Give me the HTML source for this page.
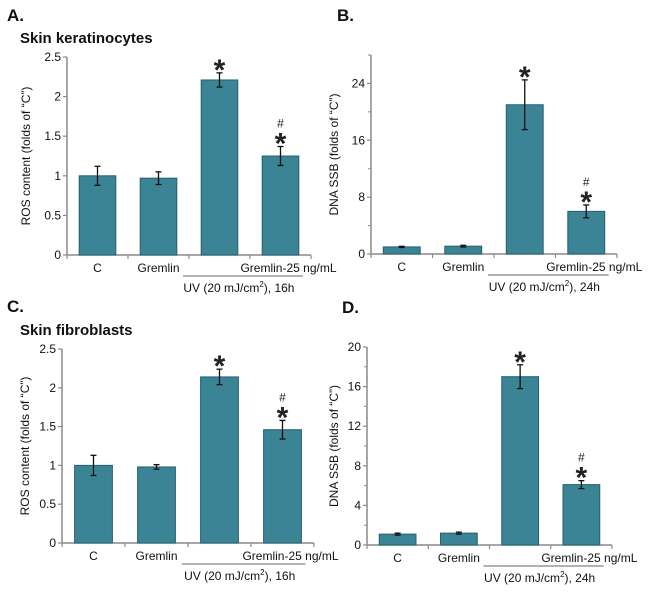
<!DOCTYPE html>
<html><head><meta charset="utf-8"><style>
body{margin:0;background:#fff;}
svg{display:block;font-family:"Liberation Sans",Arial,sans-serif;}
</style></head><body>
<svg id="fig" width="650" height="595" viewBox="0 0 650 595" xmlns="http://www.w3.org/2000/svg"></svg>
<script>
const categories = ["C", "Gremlin", "", "Gremlin-25 ng/mL"];
const aValues = [1.0, 0.97, 2.21, 1.25];
const aErrors = [0.12, 0.08, 0.09, 0.12];
const bValues = [1.0, 1.1, 21.0, 6.0];
const bErrors = [0.08, 0.12, 3.5, 0.9];
const cValues = [1.0, 0.98, 2.14, 1.46];
const cErrors = [0.13, 0.03, 0.1, 0.12];
const dValues = [1.1, 1.2, 17.0, 6.1];
const dErrors = [0.1, 0.1, 1.2, 0.4];
const rosTicks = [0, 0.5, 1, 1.5, 2, 2.5];
const bTicks = [0, 8, 16, 24];
const dTicks = [0, 4, 8, 12, 16, 20];
const starFlags = [false, false, true, true];
const hashFlags = [false, false, false, true];

const NS = "http://www.w3.org/2000/svg";
const svg = document.getElementById("fig");
function mk(tag, attrs, parent, text) {
  const e = document.createElementNS(NS, tag);
  for (const k in attrs) e.setAttribute(k, attrs[k]);
  if (text !== undefined) e.textContent = text;
  (parent || svg).appendChild(e);
  return e;
}

function panel(p) {
  const g = mk("g", {});
  
  
  const y = v => p.y0 - (v / p.max) * (p.y0 - p.yTop);
  const step = (p.xEnd - p.x0) / 4;
  const bw = step * 0.6;
  const cx = i => p.x0 + step * (i + 0.5);
  const ya = mk("line", {x1: p.x0, y1: p.yTop, x2: p.x0, y2: p.y0, stroke: "#8a8a8a", "stroke-width": 1.5}, g);
  
  
  const xa = mk("line", {x1: p.x0, y1: p.y0, x2: p.xEnd, y2: p.y0, stroke: "#8a8a8a", "stroke-width": 1.5}, g);
  
  
  for (let i = 0; i <= 4; i++) {
    mk("line", {x1: p.x0 + step * i, y1: p.y0, x2: p.x0 + step * i, y2: p.y0 + 4, stroke: "#8a8a8a", "stroke-width": 1.2}, g);
  }
  const allT = p.ticks.slice();
  for (let i = 0; i < allT.length; i++) {
    const v = allT[i];
    mk("line", {x1: p.x0 - 4, y1: y(v), x2: p.x0, y2: y(v), stroke: "#8a8a8a", "stroke-width": 1.2}, g);
    const t = mk("text", {x: p.x0 - 6, y: y(v) + 4, "text-anchor": "end", "font-size": 12, fill: "#111"}, g, String(v));
    
    
    if (i < allT.length - 1 && p.minor) {
      const m = (v + allT[i + 1]) / 2;
      mk("line", {x1: p.x0 - 3, y1: y(m), x2: p.x0, y2: y(m), stroke: "#8a8a8a", "stroke-width": 1}, g);
    }
  }
  if (p.max > allT[allT.length - 1]) {
    mk("line", {x1: p.x0 - 3, y1: y(p.max), x2: p.x0, y2: y(p.max), stroke: "#8a8a8a", "stroke-width": 1}, g);
  }
  const yt = mk("text", {x: 0, y: 0, "text-anchor": "middle", "font-size": 12, fill: "#111",
    transform: `translate(${p.x0 - p.titleOff},${(p.yTop + p.y0) / 2}) rotate(-90)`}, g, p.ytitle);
  
  
  for (let i = 0; i < p.values.length; i++) {
    const v = p.values[i], e = p.errors[i];
    const r = mk("rect", {x: cx(i) - bw / 2, y: y(v), width: bw, height: p.y0 - y(v), fill: "#3b8496", stroke: "#23606f", "stroke-width": 1}, g);
    
    
    const et = y(v + e), eb = y(v - e);
    mk("line", {x1: cx(i), y1: et, x2: cx(i), y2: eb, stroke: "#111", "stroke-width": 1.3}, g);
    mk("line", {x1: cx(i) - 3, y1: et, x2: cx(i) + 3, y2: et, stroke: "#111", "stroke-width": 1.3}, g);
    mk("line", {x1: cx(i) - 3, y1: eb, x2: cx(i) + 3, y2: eb, stroke: "#111", "stroke-width": 1.3}, g);
    if (starFlags[i]) {
      const s = mk("text", {x: cx(i), y: et + 7, "text-anchor": "middle", "font-size": 30, "font-weight": "bold", fill: "#222"}, g, "*");
      
      
    }
    if (hashFlags[i]) {
      const h = mk("text", {x: cx(i), y: et - 19, "text-anchor": "middle", "font-size": 12, fill: "#222"}, g, "#");
      
      
    }
    if (categories[i]) {
      const lx = i === 3 ? cx(i) + 8 : cx(i);
      const c = mk("text", {x: lx, y: p.y0 + 17, "text-anchor": "middle", "font-size": 12, fill: "#111"}, g, categories[i]);
      
      
    }
  }
  const lx1 = p.x0 + step * 2 - 6, lx2 = cx(3) + bw / 2 + 4;
  const ul = mk("line", {x1: lx1, y1: p.y0 + 21, x2: lx2, y2: p.y0 + 21, stroke: "#666", "stroke-width": 1}, g);
  
  
  const ut = mk("text", {x: (lx1 + lx2) / 2 - 4, y: p.y0 + 37, "text-anchor": "middle", "font-size": 12, fill: "#111"}, g);
  
  
  mk("tspan", {}, ut, "UV (20 mJ/cm");
  mk("tspan", {"font-size": 8, dy: -5}, ut, "2");
  mk("tspan", {dy: 5}, ut, "), " + p.hours);
}

panel({name: "panel-a-chart", x0: 67, xEnd: 311, y0: 255, yTop: 57, max: 2.5, ticks: rosTicks, minor: false, values: aValues, errors: aErrors, ytitle: "ROS content (folds of \u201cC\u201d)", titleOff: 37, hours: "16h"});
panel({name: "panel-b-chart", x0: 371, xEnd: 617, y0: 254, yTop: 55, max: 28, ticks: bTicks, minor: true, values: bValues, errors: bErrors, ytitle: "DNA SSB (folds of \u201cC\u201d)", titleOff: 33, hours: "24h"});
panel({name: "panel-c-chart", x0: 62, xEnd: 314, y0: 543, yTop: 349, max: 2.5, ticks: rosTicks, minor: false, values: cValues, errors: cErrors, ytitle: "ROS content (folds of \u201cC\u201d)", titleOff: 33, hours: "16h"});
panel({name: "panel-d-chart", x0: 367, xEnd: 612, y0: 545, yTop: 347, max: 20, ticks: dTicks, minor: true, values: dValues, errors: dErrors, ytitle: "DNA SSB (folds of \u201cC\u201d)", titleOff: 29, hours: "24h"});

const heads = [["A.", 7, 21, "panel-a-letter"], ["B.", 337, 21, "panel-b-letter"], ["C.", 7, 312, "panel-c-letter"], ["D.", 342, 313, "panel-d-letter"]];
for (const h of heads) {
  const t = mk("text", {x: h[1], y: h[2], "font-size": 17, "font-weight": "bold", fill: "#111"}, svg, h[0]);
  
  
}
const t1 = mk("text", {x: 20, y: 43, "font-size": 15, "font-weight": "bold", fill: "#111"}, svg, "Skin keratinocytes");


const t2 = mk("text", {x: 20, y: 335, "font-size": 15, "font-weight": "bold", fill: "#111"}, svg, "Skin fibroblasts");


</script>
</body></html>
